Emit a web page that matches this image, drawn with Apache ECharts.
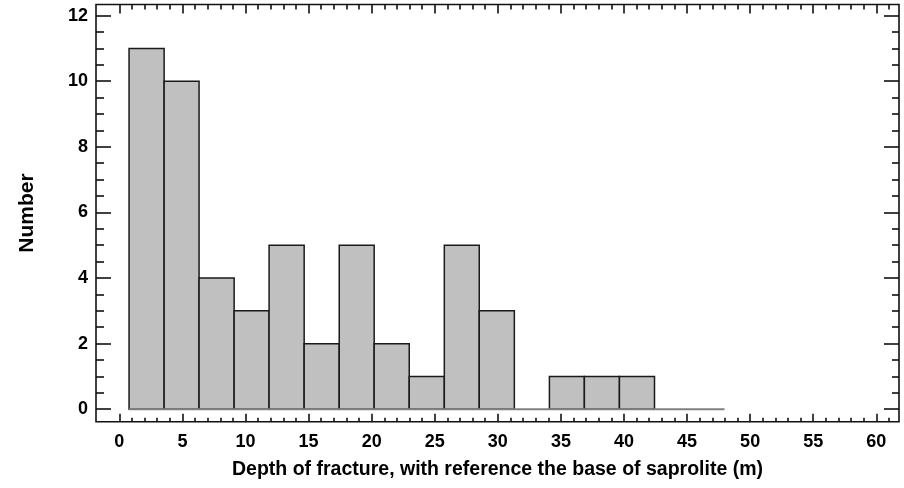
<!DOCTYPE html>
<html>
<head>
<meta charset="utf-8">
<script src="https://cdn.jsdelivr.net/npm/echarts@6/dist/echarts.min.js"></script>
<style>html,body{margin:0;padding:0;background:#fff;}#chart{width:904px;height:488px;}</style>
</head>
<body>
<div id="chart"></div>
<script>
// Histogram bin edges (m) and counts
var binEdges = [0.77, 3.55, 6.32, 9.10, 11.87, 14.65, 17.43, 20.20, 22.98, 25.76, 28.53, 31.31, 34.09, 36.86, 39.64, 42.42, 45.19, 47.97];
var counts = [11, 10, 4, 3, 5, 2, 5, 2, 1, 5, 3, 0, 1, 1, 1, 0, 0];
var xTicks = [0, 5, 10, 15, 20, 25, 30, 35, 40, 45, 50, 55, 60];
var yTicks = [0, 2, 4, 6, 8, 10, 12];
var xMinorTicks = [];
for (var i = 0; i <= 61; i++) if (i % 5 !== 0) xMinorTicks.push(i);
var yMinorTicks = [];
for (var j = 0; j <= 24; j++) if (j % 4 !== 0) yMinorTicks.push(j / 2);
var xTitle = 'Depth of fracture, with reference the base of saprolite (m)';
var yTitle = 'Number';

var XMIN = -1.85, XMAX = 61.8, YMIN = -0.38, YMAX = 12.34;

var bins = counts.map(function (c, k) { return [binEdges[k], binEdges[k + 1], c]; });

var FAM = 'Liberation Sans, Arial, sans-serif';
var tickFont = { fontFamily: FAM, fontWeight: 'bold', fontSize: 18, color: '#000' };
var tickStyle = { color: '#111', width: 1.6 };

var G = { left: 96, right: 5, top: 4.5, bottom: 66.3 };
function grid(show) {
  return Object.assign({ show: show, borderColor: '#111', borderWidth: 1.6, backgroundColor: 'transparent', containLabel: false }, G);
}

function xAx(gi, pos, vals, len, showLabel, extra) {
  var a = {
    type: 'value', position: pos, min: XMIN, max: XMAX, gridIndex: gi,
    axisLine: { show: false, onZero: false }, splitLine: { show: false },
    axisTick: { show: len > 0, inside: true, length: len, lineStyle: tickStyle, customValues: vals },
    axisLabel: showLabel ? Object.assign({ show: true, margin: 11, customValues: vals }, tickFont) : { show: false }
  };
  return Object.assign(a, extra || {});
}
function yAx(gi, pos, vals, len, showLabel, extra) {
  var a = {
    type: 'value', position: pos, min: YMIN, max: YMAX, gridIndex: gi,
    axisLine: { show: false, onZero: false }, splitLine: { show: false },
    axisTick: { show: len > 0, inside: true, length: len, lineStyle: tickStyle, customValues: vals },
    axisLabel: showLabel ? Object.assign({ show: true, margin: 8, customValues: vals }, tickFont) : { show: false }
  };
  return Object.assign(a, extra || {});
}

var chart = echarts.init(document.getElementById('chart'), null, { renderer: 'canvas' });
chart.setOption({
  animation: false,
  backgroundColor: '#fff',
  grid: [grid(true), grid(false), grid(false), grid(false), grid(false)],
  xAxis: [
    xAx(0, 'bottom', xTicks, 8, true, {
      name: xTitle, nameLocation: 'middle', nameGap: 38,
      nameTextStyle: { fontFamily: FAM, fontWeight: 'bold', fontSize: 19.5, color: '#000' }
    }),
    xAx(1, 'bottom', xMinorTicks, 4, false),
    xAx(2, 'top', xTicks, 9, false),
    xAx(3, 'top', xMinorTicks, 5, false),
    xAx(4, 'bottom', [], 0, false)
  ],
  yAxis: [
    yAx(0, 'left', yTicks, 0, true, {
      name: yTitle, nameLocation: 'middle', nameGap: 58, nameRotate: 90,
      nameTextStyle: { fontFamily: FAM, fontWeight: 'bold', fontSize: 21, color: '#000' }
    }),
    yAx(1, 'left', yMinorTicks, 8, false),
    yAx(2, 'right', yTicks, 15, false),
    yAx(3, 'right', yMinorTicks, 7, false),
    yAx(4, 'left', yTicks, 15, false)
  ],
  series: [
    {
      type: 'custom',
      xAxisIndex: 0, yAxisIndex: 0,
      data: bins,
      clip: true,
      renderItem: function (params, api) {
        var c = api.value(2);
        if (!(c > 0)) return null;
        var p0 = api.coord([api.value(0), 0]);
        var p1 = api.coord([api.value(1), c]);
        return {
          type: 'rect',
          shape: { x: p0[0], y: p1[1], width: p1[0] - p0[0], height: p0[1] - p1[1] },
          style: { fill: '#c0c0c0', stroke: '#1a1a1a', lineWidth: 1.5 }
        };
      },
      z: 2
    },
    {
      type: 'line',
      xAxisIndex: 0, yAxisIndex: 0,
      data: [[binEdges[0], 0], [binEdges[binEdges.length - 1], 0]],
      symbol: 'none',
      lineStyle: { color: '#808080', width: 2 },
      z: 3, silent: true
    }
  ]
});
</script>
</body>
</html>
